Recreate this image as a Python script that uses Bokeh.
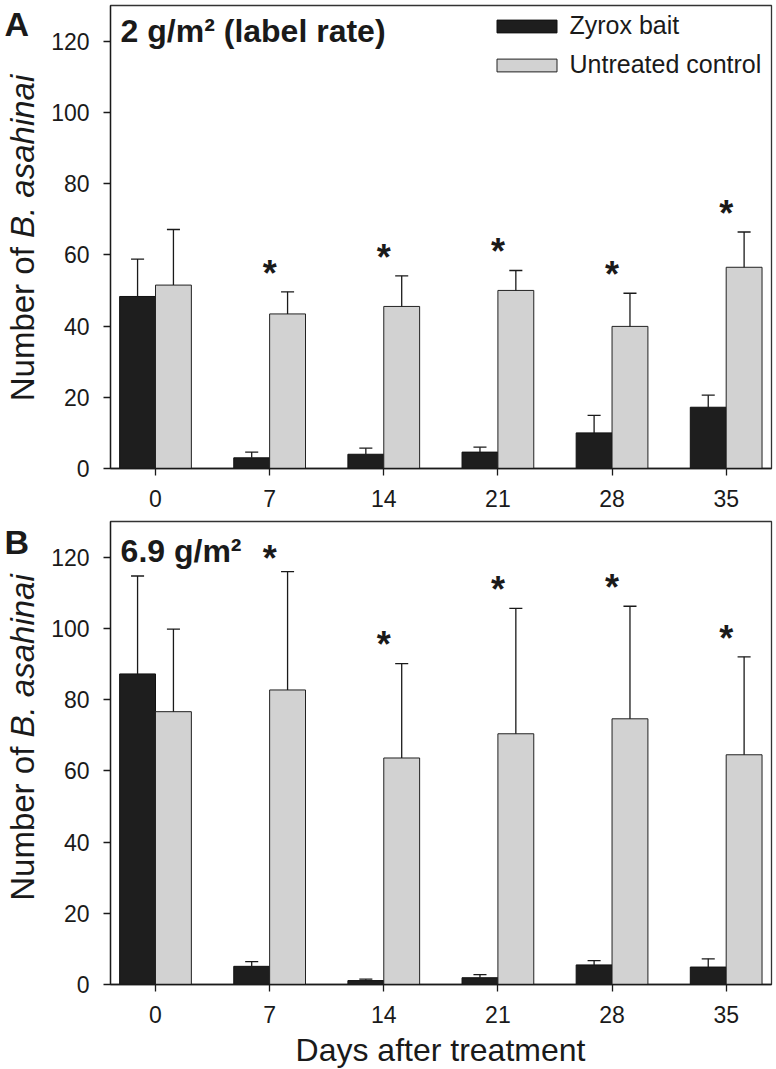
from math import pi
from bokeh.plotting import figure
from bokeh.models import Range1d, FixedTicker, Legend, LegendItem, Label, ColumnDataSource
from bokeh.layouts import column, row
from bokeh.embed import file_html
from bokeh.resources import INLINE
from bokeh.core.properties import value

# ---------------- data ----------------
days = [0, 7, 14, 21, 28, 35]
day_labels = ["0", "7", "14", "21", "28", "35"]

# Panel A: 2 g/m2 (label rate)
a_zyrox = [48.3, 3.0, 4.0, 4.6, 10.0, 17.2]
a_zyrox_se = [10.5, 1.6, 1.7, 1.4, 4.9, 3.4]
a_ctrl = [51.5, 43.4, 45.5, 50.0, 39.9, 56.5]
a_ctrl_se = [15.6, 6.2, 8.6, 5.6, 9.3, 9.9]
a_sig = [False, True, True, True, True, True]

# Panel B: 6.9 g/m2
b_zyrox = [87.2, 5.1, 1.1, 1.9, 5.5, 4.9]
b_zyrox_se = [27.5, 1.3, 0.4, 0.9, 1.2, 2.3]
b_ctrl = [76.6, 82.7, 63.6, 70.4, 74.6, 64.5]
b_ctrl_se = [23.2, 33.2, 26.5, 35.2, 31.6, 27.5]
b_sig = [False, True, True, True, True, True]

series_names = ["Zyrox bait", "Untreated control"]
y_ticks = [0, 20, 40, 60, 80, 100, 120]
y_title = ("Number of", "B. asahinai")
x_title = "Days after treatment"

FONT = "Liberation Sans"
DARK = "#1e1e1e"
LIGHT = "#d2d2d2"
INK = "#1a1a1a"
BW = 2.2      # bar width (days)
CAP = 0.4     # half cap width (days)
STAR_GAP = 7.2
STAR_MAX = 121.7

H_A, H_B, H_X, W_L = 516, 515, 38, 48


def make_panel(zy, zy_se, ct, ct_se, sig, title, title_y, height, mb_top,
               mb_bottom, legend):
    p = figure(width=776 - W_L, height=height, x_range=Range1d(-2.76, 37.78),
               y_range=Range1d(0, 130), output_backend="svg",
               toolbar_location=None, min_border_left=61, min_border_right=5,
               min_border_top=mb_top, min_border_bottom=mb_bottom)
    p.xgrid.visible = False
    p.ygrid.visible = False
    p.outline_line_color = "#333333"
    p.outline_line_width = 1.3
    p.background_fill_color = "white"
    p.border_fill_color = "white"

    xd = [d - BW / 2 for d in days]
    xc = [d + BW / 2 for d in days]
    r_dark = p.vbar(x=xd, top=zy, bottom=0, width=BW, fill_color=DARK,
                    line_color="#111111", line_width=1)
    r_light = p.vbar(x=xc, top=ct, bottom=0, width=BW, fill_color=LIGHT,
                     line_color="#222222", line_width=1)

    for xs, m, se in ((xd, zy, zy_se), (xc, ct, ct_se)):
        up = [a + b for a, b in zip(m, se)]
        p.segment(x0=xs, y0=m, x1=xs, y1=up, line_color=INK, line_width=1.3)
        p.segment(x0=[x - CAP for x in xs], y0=up, x1=[x + CAP for x in xs],
                  y1=up, line_color=INK, line_width=1.3)

    sx = [d for d, s in zip(days, sig) if s]
    sy = [min(c + e + STAR_GAP, STAR_MAX) for c, e, s in zip(ct, ct_se, sig) if s]
    src = ColumnDataSource(dict(x=sx, y=sy, t=["*"] * len(sx)))
    p.text(x="x", y="y", text="t", source=src, text_font=value(FONT),
           text_font_size="36px", text_font_style="bold", text_align="center",
           text_baseline="alphabetic", y_offset=7, text_color=INK)

    # axes
    p.xaxis.ticker = FixedTicker(ticks=days)
    p.xaxis.major_label_overrides = {d: l for d, l in zip(days, day_labels)}
    p.yaxis.ticker = FixedTicker(ticks=y_ticks)
    for ax in (p.xaxis[0], p.yaxis[0]):
        ax.major_label_text_font = FONT
        ax.major_label_text_font_size = "23px"
        ax.major_label_text_color = INK
        ax.axis_line_color = INK
        ax.axis_line_width = 1.3
        ax.major_tick_line_color = INK
        ax.major_tick_line_width = 1.3
        ax.major_tick_out = 7
        ax.major_tick_in = 0
        ax.minor_tick_line_color = None
    p.xaxis.major_label_standoff = 14
    p.yaxis.major_label_standoff = 14

    p.add_layout(Label(x=-2.14, y=title_y, text=title, text_font=FONT,
                       text_font_size="32px", text_font_style="bold",
                       text_color=INK, text_baseline="alphabetic"))

    if legend:
        lg = Legend(items=[LegendItem(label=series_names[0], renderers=[r_dark]),
                           LegendItem(label=series_names[1], renderers=[r_light])],
                    location=(378.5, 389), glyph_width=75, glyph_height=16,
                    label_standoff=6, label_text_font=FONT,
                    label_text_font_size="25px", label_text_color=INK,
                    spacing=10, padding=0, margin=0,
                    border_line_alpha=0, background_fill_alpha=0)
        p.add_layout(lg)
    return p


def blank(width, height):
    f = figure(width=width, height=height, x_range=Range1d(0, width),
               y_range=Range1d(0, height), output_backend="svg",
               toolbar_location=None, min_border=0, title=None,
               x_axis_type=None, y_axis_type=None)
    f.xgrid.visible = False
    f.ygrid.visible = False
    f.outline_line_color = None
    f.border_fill_color = "white"
    f.background_fill_color = "white"
    return f


def txt(f, x, y, s, size, style="normal", angle=0.0, align="left"):
    f.text(x=[x], y=[y], text=[s], angle=angle, text_align=align,
           text_baseline="alphabetic", text_font=value(FONT),
           text_font_size=size, text_font_style=style, text_color=INK)


pA = make_panel(a_zyrox, a_zyrox_se, a_ctrl, a_ctrl_se, a_sig,
                "2 g/m\u00b2 (label rate)", 122.7, H_A, 5, 48, True)
pB = make_panel(b_zyrox, b_zyrox_se, b_ctrl, b_ctrl_se, b_sig,
                "6.9 g/m\u00b2", 121.7, H_B, 5, 47, False)

# left strip: panel letters and the y-axis titles (y measured from strip bottom)
side = blank(W_L, H_A + H_B)
txt(side, 4, 1007.5, "A", "34px", style="bold")
txt(side, 4, 489.5, "B", "34px", style="bold")
for yj, yb in ((784.3, 793.5), (284.8, 294.0)):
    txt(side, 21.6, yj, y_title[0], "33px", angle=pi / 2, align="right")
    txt(side, 21.6, yb, y_title[1], "33px", style="italic", angle=pi / 2)

# bottom strip: x-axis title
bottom = blank(776, H_X)
txt(bottom, 440, 19.5, x_title, "32px", align="center")

layout = column(row(side, column(pA, pB, spacing=0), spacing=0), bottom, spacing=0)
open("out.html", "w").write(file_html(layout, INLINE))
